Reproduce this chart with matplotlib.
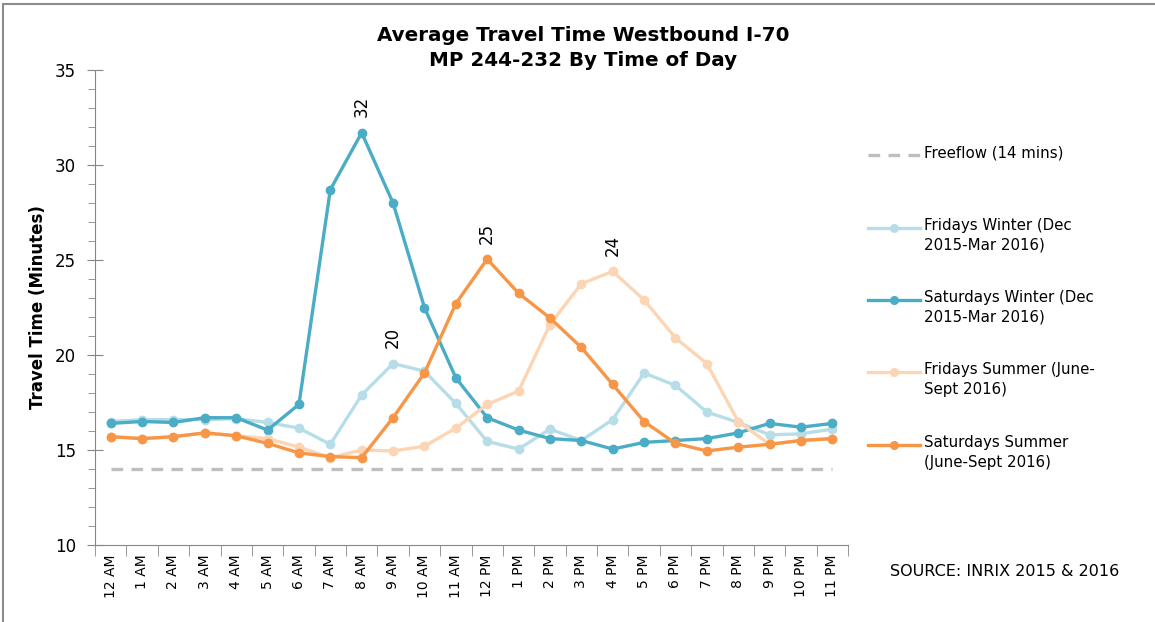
import matplotlib.pyplot as plt
from matplotlib.lines import Line2D
from matplotlib.patches import Rectangle

# =============== Data ===============
HOURS = ["12 AM", "1 AM", "2 AM", "3 AM", "4 AM", "5 AM", "6 AM", "7 AM", "8 AM",
         "9 AM", "10 AM", "11 AM", "12 PM", "1 PM", "2 PM", "3 PM", "4 PM", "5 PM",
         "6 PM", "7 PM", "8 PM", "9 PM", "10 PM", "11 PM"]

FREEFLOW = 14

FRI_WINTER = [16.5, 16.6, 16.6, 16.6, 16.65, 16.45, 16.15, 15.3, 17.9, 19.55, 19.15, 17.45,
              15.45, 15.05, 16.1, 15.5, 16.6, 19.05, 18.4, 17.0, 16.45, 15.8, 15.85, 16.1]
SAT_WINTER = [16.4, 16.5, 16.45, 16.7, 16.7, 16.05, 17.4, 28.7, 31.7, 28.0, 22.5, 18.8,
              16.7, 16.05, 15.6, 15.5, 15.05, 15.4, 15.5, 15.6, 15.9, 16.4, 16.2, 16.4]
FRI_SUMMER = [15.7, 15.6, 15.7, 15.9, 15.75, 15.6, 15.15, 14.6, 15.0, 14.95, 15.2, 16.15,
              17.4, 18.1, 21.6, 23.75, 24.4, 22.9, 20.9, 19.55, 16.5, 15.3, 15.5, 15.6]
SAT_SUMMER = [15.7, 15.6, 15.7, 15.9, 15.75, 15.35, 14.85, 14.65, 14.6, 16.7, 19.05, 22.7,
              25.05, 23.25, 21.95, 20.4, 18.45, 16.5, 15.35, 14.95, 15.15, 15.3, 15.5, 15.6]

# peak labels: (series, hour index, text)
PEAKS = [("sat_w", 8, "32"), ("fri_w", 9, "20"), ("sat_s", 12, "25"), ("fri_s", 16, "24")]

# =============== Styles ===============
C_FRI_W = "#B7DEE8"
C_SAT_W = "#4BACC6"
C_FRI_S = "#FCD5B5"
C_SAT_S = "#F79646"
C_FREE  = "#BFBFBF"
AXIS_C  = "#868686"

plt.rcParams['font.family'] = ['DejaVu Sans']

fig = plt.figure(figsize=(11.55, 6.22), dpi=100)
ax = fig.add_axes([95/1155, 1 - 545/622, 753/1155, 475/622])

x = list(range(len(HOURS)))
line_kw = dict(lw=2.4, marker="o", markersize=6)

ax.plot(x, [FREEFLOW] * len(x), color=C_FREE, lw=2.4, dashes=(3.5, 2.5))
series = {
    "fri_w": (FRI_WINTER, C_FRI_W),
    "sat_w": (SAT_WINTER, C_SAT_W),
    "fri_s": (FRI_SUMMER, C_FRI_S),
    "sat_s": (SAT_SUMMER, C_SAT_S),
}
for key, (vals, col) in series.items():
    ax.plot(x, vals, color=col, **line_kw)

for key, idx, txt in PEAKS:
    vals = series[key][0]
    ax.annotate(txt, (idx, vals[idx]), xytext=(0, 11), textcoords="offset points",
                rotation=90, ha="center", va="bottom", fontsize=12)

# axes
ax.set_xlim(-0.5, len(HOURS) - 0.5)
ax.set_ylim(10, 35)
ax.set_yticks([10, 15, 20, 25, 30, 35])
ax.set_yticks(range(10, 36), minor=True)
ax.set_xticks(x)
ax.set_xticklabels(HOURS, rotation=90, fontsize=10)
ax.set_xticks([i - 0.5 for i in range(len(HOURS) + 1)], minor=True)
ax.tick_params(axis="x", which="major", length=0, pad=7)
ax.tick_params(axis="x", which="minor", length=8, color=AXIS_C, direction="out")
ax.tick_params(axis="y", which="major", length=11, color=AXIS_C, direction="inout",
               labelsize=12, pad=8)
ax.tick_params(axis="y", which="minor", length=5, color=AXIS_C, direction="out")
for s in ["top", "right"]:
    ax.spines[s].set_visible(False)
for s in ["left", "bottom"]:
    ax.spines[s].set_color(AXIS_C)
ax.set_ylabel("Travel Time (Minutes)", fontsize=12, fontweight="bold", labelpad=6)

fig.text(583/1155, 1 - 48/622, "Average Travel Time Westbound I-70\nMP 244-232 By Time of Day",
         ha="center", va="center", fontsize=14.3, fontweight="bold", linespacing=1.35)

# legend, drawn by hand so the handle sits on the first text line
legend_items = [
    (C_FREE, True, "Freeflow (14 mins)", 155),
    (C_FRI_W, False, "Fridays Winter (Dec\n2015-Mar 2016)", 228),
    (C_SAT_W, False, "Saturdays Winter (Dec\n2015-Mar 2016)", 300),
    (C_FRI_S, False, "Fridays Summer (June-\nSept 2016)", 372),
    (C_SAT_S, False, "Saturdays Summer\n(June-Sept 2016)", 445),
]
for col, dashed, label, ypx in legend_items:
    yf = 1 - ypx / 622
    if dashed:
        h = Line2D([868/1155, 920/1155], [yf, yf], color=col, lw=2.4, dashes=(3.5, 2.5),
                   transform=fig.transFigure)
    else:
        h = Line2D([868/1155, 920/1155], [yf, yf], color=col, lw=2.4, transform=fig.transFigure)
        fig.add_artist(Line2D([894/1155], [yf], color=col, marker="o", markersize=5.5,
                              transform=fig.transFigure))
    fig.add_artist(h)
    fig.text(924/1155, yf + 10/622, label, ha="left", va="top", fontsize=10.8, linespacing=1.4)

fig.text(890/1155, 1 - 572/622, "SOURCE: INRIX 2015 & 2016", ha="left", va="center", fontsize=11.5)

# thin outer frame (top and left edges visible)
fig.add_artist(Rectangle((3/1155, -0.1), 1.2, 1 - 4/622 + 0.1, transform=fig.transFigure,
                         fill=False, edgecolor="#8C8C8C", lw=1.5))

fig.savefig("out.png", dpi=100)
